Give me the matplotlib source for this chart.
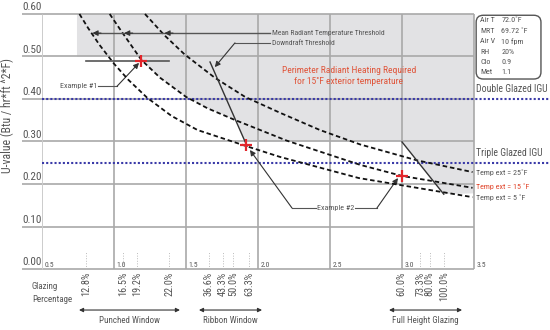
import numpy as np
import matplotlib
matplotlib.use('Agg')
import matplotlib.pyplot as plt
from matplotlib import font_manager
from matplotlib.patches import Polygon, FancyBboxPatch

# pick a narrow face if one is installed
fonts = font_manager.fontManager.ttflist
narrow = None
for f in fonts:
    if f.name == 'Liberation Sans Narrow':
        narrow = f.name
        break
if narrow is None:
    for f in fonts:
        if f.name in ('Roboto Condensed', 'Open Sans Condensed'):
            narrow = f.name
            break
if narrow is None:
    for f in fonts:
        if f.name == 'DejaVu Sans' and f.stretch == 'condensed':
            narrow = 'DejaVu Sans'
            plt.rcParams['font.stretch'] = 'condensed'
            break
if narrow is None:
    narrow = 'Liberation Sans'
plt.rcParams['font.family'] = [narrow, 'DejaVu Sans']

# curves: MRT threshold for three exterior temperatures
t5_x = [0.76, 0.82, 0.90, 1.00, 1.10, 1.23, 1.40, 1.58, 1.92, 2.15, 2.70, 3.49]
t5_u = [0.600, 0.567, 0.527, 0.483, 0.445, 0.403, 0.360, 0.327, 0.289, 0.264, 0.214, 0.169]
t15_x = [0.97, 1.05, 1.19, 1.32, 1.50, 1.65, 1.83, 2.20, 2.71, 3.00, 3.49]
t15_u = [0.600, 0.560, 0.492, 0.450, 0.405, 0.378, 0.352, 0.302, 0.245, 0.219, 0.191]
t25_x = [1.215, 1.35, 1.49, 1.70, 1.91, 2.15, 2.43, 2.71, 3.10, 3.49]
t25_u = [0.600, 0.550, 0.505, 0.450, 0.405, 0.368, 0.327, 0.293, 0.256, 0.228]

# downdraft threshold segments
dd1_x = [1.667, 1.924]
dd1_u = [0.487, 0.289]
dd2_x = [3.00, 3.29]
dd2_u = [0.299, 0.176]

# shaded zone (radiant heating required at 15F)
zone_x = [0.743, 3.50, 3.50, 3.29, 3.00, 1.91, 1.85, 1.65, 1.50, 1.32, 1.19, 1.17, 0.743]
zone_u = [0.600, 0.600, 0.178, 0.176, 0.300, 0.300, 0.350, 0.378, 0.405, 0.450, 0.492, 0.500, 0.500]

double_igu = 0.40
triple_igu = 0.25

ex1 = (1.19, 0.49)
ex1_span = [0.806, 1.382]
ex2 = [(1.92, 0.292), (3.00, 0.219)]

y_ticks = [0.0, 0.1, 0.2, 0.3, 0.4, 0.5, 0.6]
x_ticks = [0.5, 1.0, 1.5, 2.0, 2.5, 3.0, 3.5]

glz_x = [0.806, 1.0625, 1.16, 1.382, 1.66, 1.757, 1.826, 1.9375, 2.993, 3.128, 3.192, 3.29]
glz_lab = ['12.8%', '16.5%', '19.2%', '22.0%', '36.6%', '43.3%', '50.0%', '63.3%',
           '60.0%', '73.3%', '80.0%', '100.0%']
groups = [('Punched Window', 0.757, 1.458), ('Ribbon Window', 1.59, 2.028),
          ('Full Height Glazing', 2.91, 3.417)]

info_keys = ['Air T', 'MRT', 'Air V', 'RH', 'Clo', 'Met']
info_vals = ['72.0˚F', '69.72 ˚F', '10 fpm', '20%', '0.9', '1.1']

grid = '#a9a9a9'
txt = '#555555'
blue = '#3a3aa8'
red = '#e2262b'

fig = plt.figure(figsize=(5.5, 3.3), dpi=100)
ax = fig.add_axes([0, 0, 1, 1])
ax.set_xlim(0.2083, 4.0278)
ax.set_ylim(-0.1435, 0.6329)
ax.axis('off')

ax.add_patch(Polygon(np.column_stack([zone_x, zone_u]), closed=True,
                     facecolor='#e2e2e4', edgecolor='none', zorder=0))

# grid
for u in y_ticks:
    ax.hlines(u, 0.361, 3.5, color=grid, lw=1.2, zorder=1)
    ax.text(0.361, u + 0.004, '%.2f' % u, ha='left', va='bottom', fontsize=8, color=txt)
for x in x_ticks:
    if x == 0.5:
        ax.vlines(x, 0, 0.6, color='#cccccc', lw=0.7, zorder=1)
    else:
        ax.vlines(x, 0, 0.6, color=grid, lw=1.2, zorder=1)
    ax.text(x + 0.02, 0.003, '%.1f' % x, ha='left', va='bottom', fontsize=5.5, color=txt)

# IGU lines
ax.plot([0.5, 4.03], [double_igu, double_igu], color=blue, lw=1.5, ls=(0, (1, 1)), zorder=3, clip_on=False)
ax.plot([0.5, 4.03], [triple_igu, triple_igu], color=blue, lw=1.5, ls=(0, (1, 1)), zorder=3, clip_on=False)
ax.text(3.515, double_igu + 0.012, 'Double Glazed IGU', fontsize=7, color=txt, va='bottom')
ax.text(3.515, triple_igu + 0.01, 'Triple Glazed IGU', fontsize=7, color=txt, va='bottom')

# threshold curves
for cx, cu in [(t5_x, t5_u), (t15_x, t15_u), (t25_x, t25_u)]:
    ax.plot(cx, cu, color='#111111', lw=1.3, ls=(0, (2.5, 1.6)), zorder=4)
ax.text(3.515, 0.226, 'Temp ext = 25˚F', fontsize=5.8, color=txt, va='center')
ax.text(3.515, 0.193, 'Temp ext = 15 ˚F', fontsize=5.8, color='#e0442a', va='center')
ax.text(3.515, 0.167, 'Temp ext = 5 ˚F', fontsize=5.8, color=txt, va='center')

ax.plot(dd1_x, dd1_u, color='#333333', lw=1.0, zorder=4)
ax.plot(dd2_x, dd2_u, color='#333333', lw=1.0, zorder=4)

# example 1
ax.plot(ex1_span, [ex1[1], ex1[1]], color='#555555', lw=1.2, zorder=4)
ax.plot(*ex1, marker='+', ms=8, mew=1.6, color=red, zorder=6)
for p in ex2:
    ax.plot(*p, marker='+', ms=8, mew=1.6, color=red, zorder=6)

arr = dict(arrowstyle='-|>', color='#333333', lw=0.8, mutation_scale=8, shrinkA=0, shrinkB=0)

# MRT threshold pointer
ax.plot([0.87, 2.08], [0.555, 0.555], color='#555555', lw=1.0, zorder=5)
for x in [0.85, 1.07, 1.35]:
    ax.annotate('', xy=(x, 0.555), xytext=(x + 0.06, 0.555), arrowprops=arr, zorder=5)
ax.text(2.095, 0.555, 'Mean Radiant Temperature Threshold', fontsize=5.5, color=txt, va='center')

# downdraft pointer
ax.plot([2.08, 1.84], [0.532, 0.532], color='#555555', lw=0.8)
ax.annotate('', xy=(1.70, 0.475), xytext=(1.84, 0.532), arrowprops=arr)
ax.text(2.095, 0.532, 'Downdraft Threshold', fontsize=5.5, color=txt, va='center')

ax.text(2.63, 0.468, 'Perimeter Radiant Heating Required', fontsize=6.8, color='#e0553a', ha='center', va='center')
ax.text(2.63, 0.440, 'for 15˚F exterior temperature', fontsize=6.8, color='#e0553a', ha='center', va='center')

# example labels
ax.text(0.886, 0.43, 'Example #1', fontsize=5.8, color=txt, ha='right', va='center')
ax.plot([0.889, 1.021], [0.43, 0.43], color='#555555', lw=0.8)
ax.annotate('', xy=(1.174, 0.485), xytext=(1.021, 0.43), arrowprops=arr)

ax.text(2.54, 0.1435, 'Example #2', fontsize=5.8, color=txt, ha='center', va='center')
ax.plot([2.403, 2.236], [0.1435, 0.1435], color='#555555', lw=0.8)
ax.annotate('', xy=(1.944, 0.28), xytext=(2.236, 0.1435), arrowprops=arr)
ax.plot([2.674, 2.826], [0.1435, 0.1435], color='#555555', lw=0.8)
ax.annotate('', xy=(2.972, 0.214), xytext=(2.826, 0.1435), arrowprops=arr)

# info box
ax.add_patch(FancyBboxPatch((3.515, 0.447), 0.45, 0.150, boxstyle='round,pad=0,rounding_size=0.05',
                            facecolor='white', edgecolor='#555555', lw=1.0, zorder=5,
                            mutation_aspect=0.33))
for i, (k, v) in enumerate(zip(info_keys, info_vals)):
    yy = 0.585 - i * 0.0245
    ax.text(3.545, yy, k, fontsize=5.8, color=txt, va='center', zorder=6)
    ax.text(3.69, yy, v, fontsize=5.8, color=txt, va='center', zorder=6)

# glazing percentages
for x, lab in zip(glz_x, glz_lab):
    ax.vlines(x, 0, 0.04, color='#bbbbbb', lw=0.7, ls=':')
    ax.text(x, -0.006, lab, rotation=90, ha='center', va='top', fontsize=7.4, color=txt)
ax.text(0.43, -0.042, 'Glazing', fontsize=6.5, color=txt, va='center')
ax.text(0.43, -0.071, 'Percentage', fontsize=6.5, color=txt, va='center')

both = dict(arrowstyle='<|-|>', color='#333333', lw=0.8, mutation_scale=6, shrinkA=0, shrinkB=0)
for name, a, b in groups:
    ax.annotate('', xy=(a, -0.0965), xytext=(b, -0.0965), arrowprops=both)
    ax.text((a + b) / 2, -0.121, name, fontsize=6.5, color=txt, ha='center', va='center')

ax.text(0.26, 0.362, 'U-value (Btu / hr*ft ^2*F)', rotation=90, fontsize=8.5, color=txt,
        ha='center', va='center')

fig.savefig('out.png', dpi=100)
